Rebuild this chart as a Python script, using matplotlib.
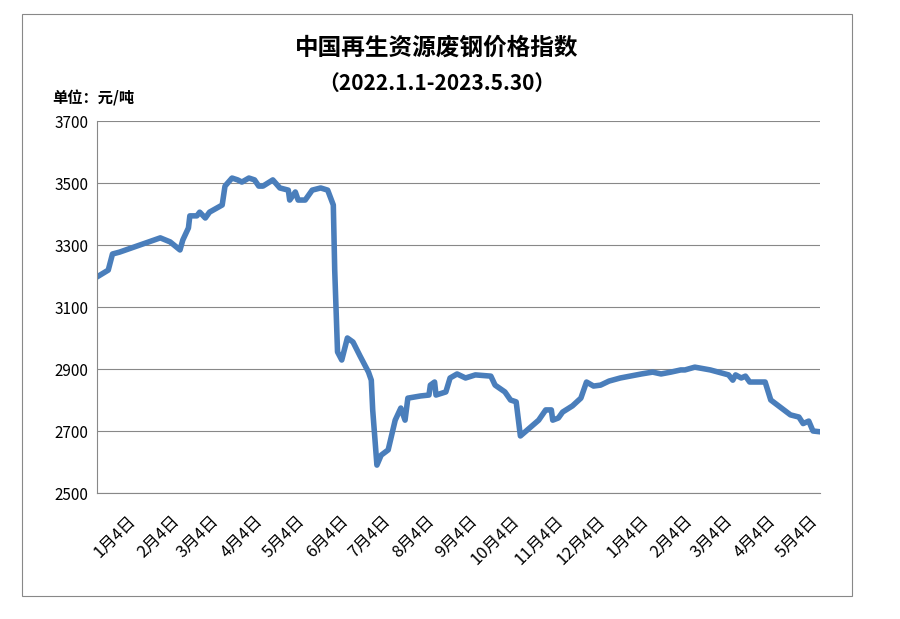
import matplotlib
matplotlib.use("Agg")
import matplotlib.pyplot as plt
import matplotlib.transforms as mtransforms
import pandas as pd
from matplotlib.patches import Rectangle

plt.rcParams['font.family'] = ['Noto Sans CJK SC', 'DejaVu Sans']

days = [0,8,11,16,45,52,59,61,65,66,71,73,77,80,89,91,96,100,103,108,112,115,118,125,130,136,137,141,143,148,153,159,164,168,169,171,174,178,182,187,193,195,196,199,202,207,212,216,219,221,230,236,237,240,241,248,251,256,262,269,280,283,290,294,298,301,314,319,323,324,328,331,338,344,348,353,358,364,372,387,395,401,408,415,418,425,436,449,452,454,458,461,464,468,475,479,493,499,502,506,509,515]
values = [3197,3219,3271,3277,3323,3310,3284,3316,3355,3394,3394,3406,3387,3406,3429,3490,3516,3510,3503,3516,3510,3490,3490,3510,3484,3477,3445,3471,3445,3445,3477,3484,3477,3429,3219,2955,2929,3000,2987,2942,2890,2864,2768,2590,2622,2639,2735,2774,2735,2806,2813,2816,2848,2858,2816,2826,2871,2884,2871,2881,2877,2848,2826,2800,2794,2684,2735,2768,2768,2735,2742,2761,2781,2806,2858,2845,2848,2861,2871,2884,2890,2884,2890,2897,2897,2906,2897,2881,2864,2881,2871,2877,2858,2858,2858,2800,2752,2745,2724,2732,2700,2697]
tick_dates = ["2022-01-04","2022-02-04","2022-03-04","2022-04-04","2022-05-04","2022-06-04","2022-07-04","2022-08-04","2022-09-04","2022-10-04","2022-11-04","2022-12-04","2023-01-04","2023-02-04","2023-03-04","2023-04-04","2023-05-04"]
tick_labels = ["1月4日","2月4日","3月4日","4月4日","5月4日","6月4日","7月4日","8月4日","9月4日","10月4日","11月4日","12月4日","1月4日","2月4日","3月4日","4月4日","5月4日"]

start = pd.Timestamp("2022-01-01")
x = [start + pd.Timedelta(days=d) for d in days]

fig = plt.figure(figsize=(9, 6.19), dpi=100)
fig.patches.append(Rectangle((22/900, 1-596/619), 830/900, 582/619, transform=fig.transFigure,
                             fill=False, edgecolor='#888888', linewidth=0.8))
ax = fig.add_axes([97/900, 1-493/619, 723/900, 372/619])
ax.plot(x, values, color='#4a7ebb', linewidth=4, solid_joinstyle='round')
ax.set_xlim(start, pd.Timestamp("2023-05-30"))
ax.set_ylim(2500, 3700)
ax.set_yticks(range(2500, 3701, 200))
ax.tick_params(axis='y', labelsize=11, length=0, pad=6)
ax.set_xticks(pd.to_datetime(tick_dates))
ax.set_xticklabels(tick_labels, rotation=45, ha='right', rotation_mode='anchor', fontsize=12)
ax.tick_params(axis='x', length=0, pad=4)
offset = mtransforms.ScaledTranslation(26/100, -14/100, fig.dpi_scale_trans)
for lab in ax.get_xticklabels():
    lab.set_transform(lab.get_transform() + offset)
ax.grid(axis='y', color='#888888', linewidth=0.8)
ax.set_axisbelow(True)
for s in ['top', 'right']:
    ax.spines[s].set_visible(False)
ax.spines['left'].set_color('#888888')
ax.spines['bottom'].set_color('#888888')

fig.text(437/900, 1-48/619, "中国再生资源废钢价格指数", ha='center', va='center', fontsize=17, fontweight='bold')
fig.text(437/900, 1-83/619, "（2022.1.1-2023.5.30）", ha='center', va='center', fontsize=15, fontweight='bold')
fig.text(52/900, 1-98/619, "单位：元/吨", ha='left', va='center', fontsize=11, fontweight='bold')

fig.savefig("out.png", dpi=100)
